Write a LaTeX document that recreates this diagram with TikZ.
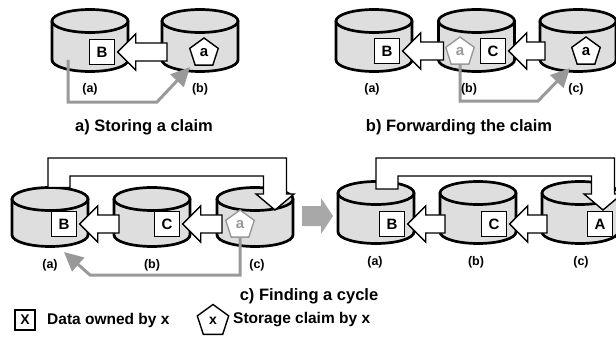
\documentclass[tikz,border=0pt]{standalone}
\usepackage{fontspec}
\setmainfont{Liberation Sans}
\usetikzlibrary{shapes.geometric,arrows.meta,calc}

\definecolor{drumfill}{gray}{0.87}
\definecolor{trail}{gray}{0.6}
\definecolor{bigarrow}{gray}{0.66}

\tikzset{
  drumline/.style={line width=2.7pt, fill=drumfill, line join=round},
  databox/.style={draw, fill=white, line width=1.4pt, minimum size=25pt, inner sep=0pt,
                  font=\bfseries\fontsize{15}{15}\selectfont},
  claim/.style={regular polygon, regular polygon sides=5, draw, fill=white, line width=1.4pt,
                minimum size=30pt, inner sep=0pt, font=\bfseries\fontsize{15}{15}\selectfont},
  oldclaim/.style={claim, draw=trail, text=trail},
  blockarrow/.style={draw, fill=white, line width=1.4pt, line join=miter},
  trailarrow/.style={draw=trail, line width=3pt, -{Triangle[length=19pt,width=18pt]}},
  peer/.style={font=\bfseries\fontsize{12.5}{12.5}\selectfont},
  caption/.style={font=\bfseries\fontsize{16.5}{16.5}\selectfont},
  legendtext/.style={font=\bfseries\fontsize{15.5}{15.5}\selectfont, anchor=west, inner sep=0pt},
}

% drum (storage node): #1 name, #2 centre x, #3 top y, #4 bottom y
\newcommand\drum[4]{%
  \path[drumline,draw] (#2-38,#3) -- (#2-38,#4)
     arc[start angle=180,end angle=360,x radius=38pt,y radius=11.5pt]
     -- (#2+38,#3) -- cycle;
  \path[drumline,draw] (#2,#3) ellipse[x radius=38pt,y radius=11.5pt];
  \coordinate (#1) at (#2,#3);
  \coordinate (#1-w) at (#2-38,#3);
}

% left-pointing block arrow: #1 tip point, #2 tail point
\newcommand\pointer[2]{%
  \draw[blockarrow] let \p1=#1, \p2=#2 in
    (\x1,\y1) -- (\x1+18pt,\y1+18pt) -- (\x1+18pt,\y1+9pt) -- (\x2,\y1+9pt)
    -- (\x2,\y1-9pt) -- (\x1+18pt,\y1-9pt) -- (\x1+18pt,\y1-18pt) -- cycle;
}

% loop-back pipe from the first drum over the row down into the last one:
% #1 outer-left foot, #2 tip
\newcommand\loopback[2]{%
  \draw[blockarrow] let \p1=#1, \p2=#2 in
    (\x1,\y1) -- (\x1,-158pt) -- (\x2+11.5pt,-158pt) -- (\x2+11.5pt,\y2+16pt)
    -- (\x2+19pt,\y2+16pt) -- (\x2,\y2) -- (\x2-19pt,\y2+16pt) -- (\x2-11.5pt,\y2+16pt)
    -- (\x2-11.5pt,-176pt) -- (\x1+22pt,-176pt) -- (\x1+22pt,\y1) -- cycle;
}

\begin{document}
\begin{tikzpicture}[x=1pt,y=-1pt]
\useasboundingbox (0,0) rectangle (616,345);

% ---------- a) Storing a claim ----------
\drum{pa-a}{90}{21}{60}
\drum{pa-b}{200}{21}{60}
\node[databox] (pa-B) at (102,52) {B};
\node[claim] (pa-claim) at (204,53) {a};
\pointer{($(pa-B.east)+(2.5,0)$)}{($(pa-b-w)+(5,0)$)}
\coordinate (pa-start) at (68,60);
\coordinate (pa-bend) at (157,102);
\coordinate (pa-end) at (190,67);
\draw[trailarrow] (pa-start) |- (pa-bend) -- (pa-end);
\node[peer] (pa-la) at (90,89) {(a)};
\node[peer] (pa-lb) at (200,89) {(b)};
\node[caption] (pa-title) at (144,127) {a) Storing a claim};

% ---------- b) Forwarding the claim ----------
\drum{pb-a}{374}{21}{60}
\drum{pb-b}{476.5}{21}{60}
\drum{pb-c}{578}{21}{60}
\node[databox] (pb-B) at (387,51) {B};
\node[databox] (pb-C) at (493,51) {C};
\node[oldclaim] (pb-old) at (460,52) {a};
\node[claim] (pb-claim) at (586,52) {a};
\pointer{($(pb-B.east)+(2.5,0)$)}{($(pb-b-w)+(5,0)$)}
\pointer{($(pb-C.east)+(2.5,0)$)}{($(pb-c-w)+(5,0)$)}
\coordinate (pb-bend) at (538,101);
\coordinate (pb-end) at (570,68);
\draw[trailarrow] (pb-old.south) |- (pb-bend) -- (pb-end);
\node[peer] (pb-la) at (372,89) {(a)};
\node[peer] (pb-lb) at (469,89) {(b)};
\node[peer] (pb-lc) at (576,89) {(c)};
\node[caption] (pb-title) at (459,127) {b) Forwarding the claim};

% ---------- c) Finding a cycle: before ----------
\drum{pc-a}{50}{199}{235}
\drum{pc-b}{152}{199}{235}
\drum{pc-c}{255}{199}{235}
\node[databox] (pc-B) at (64,224) {B};
\node[databox] (pc-C) at (167,224) {C};
\node[oldclaim] (pc-old) at (240,225) {a};
\pointer{($(pc-B.east)+(2.5,0)$)}{($(pc-b-w)+(5,0)$)}
\pointer{($(pc-C.east)+(2.5,0)$)}{($(pc-c-w)+(5,0)$)}
\coordinate (pc-foot) at (48,187.5);
\coordinate (pc-tip) at (275,210);
\loopback{(pc-foot)}{(pc-tip)}
\coordinate (pc-bend) at (90,275);
\coordinate (pc-end) at (64,252);
\draw[trailarrow] (pc-old.south) |- (pc-bend) -- (pc-end);
\node[peer] (pc-la) at (50,265) {(a)};
\node[peer] (pc-lb) at (152,265) {(b)};
\node[peer] (pc-lc) at (257,265) {(c)};

% step arrow between the two states
\fill[bigarrow] (302,206) -- (321,206) -- (321,198) -- (333,216) -- (321,234) -- (321,226) -- (302,226) -- cycle;

% ---------- c) Finding a cycle: after ----------
\drum{pd-a}{376}{193}{232}
\drum{pd-b}{478}{193}{232}
\drum{pd-c}{580}{193}{232}
\node[databox] (pd-B) at (392,224) {B};
\node[databox] (pd-C) at (494,224) {C};
\node[databox] (pd-A) at (600,224) {A};
\pointer{($(pd-B.east)+(2.5,0)$)}{($(pd-b-w)+(5,0)$)}
\pointer{($(pd-C.east)+(2.5,0)$)}{($(pd-c-w)+(5,0)$)}
\coordinate (pd-foot) at (376,189);
\coordinate (pd-tip) at (603,210);
\loopback{(pd-foot)}{(pd-tip)}
\node[peer] (pd-la) at (375,262) {(a)};
\node[peer] (pd-lb) at (476,262) {(b)};
\node[peer] (pd-lc) at (581,262) {(c)};

\node[caption] (pc-title) at (309,296) {c) Finding a cycle};

% ---------- legend ----------
\node[databox, minimum size=20pt, font=\bfseries\fontsize{14}{14}\selectfont] (lg-box) at (25,320) {X};
\node[legendtext] (lg-boxtext) at (47,320) {Data owned by x};
\node[claim, minimum size=33pt, font=\bfseries\fontsize{14}{14}\selectfont] (lg-claim) at (213,321) {x};
\node[legendtext] (lg-claimtext) at (233,320) {Storage claim by x};

\end{tikzpicture}
\end{document}
